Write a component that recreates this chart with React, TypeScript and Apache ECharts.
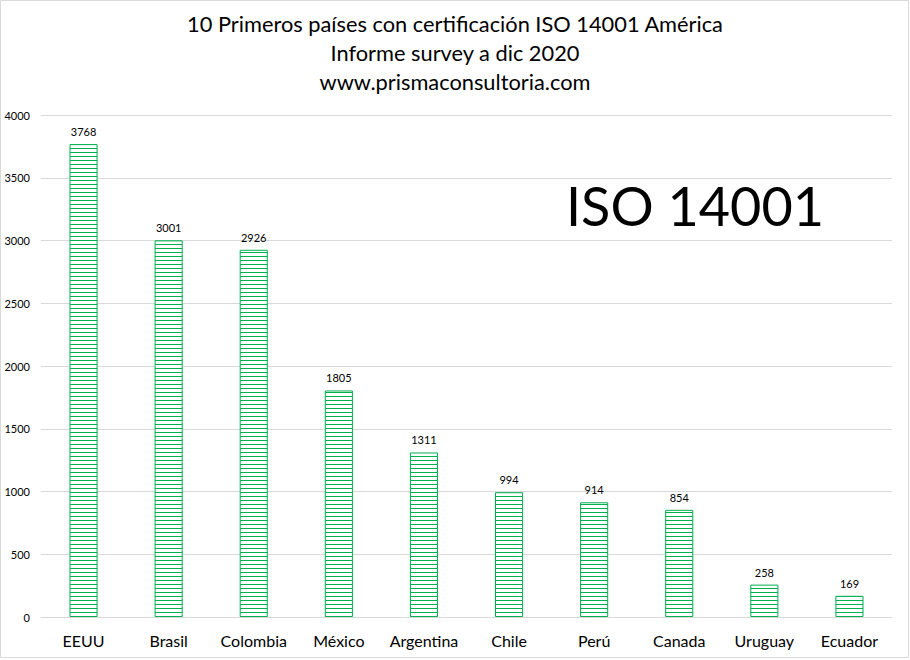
import React, { useEffect, useRef } from "react";
import * as echarts from "echarts";

const categories = ["EEUU", "Brasil", "Colombia", "México", "Argentina", "Chile", "Perú", "Canada", "Uruguay", "Ecuador"];
const values = [3768, 3001, 2926, 1805, 1311, 994, 914, 854, 258, 169];
const titleLines = [
  "10 Primeros países con certificación ISO 14001 América",
  "Informe survey a dic 2020",
  "www.prismaconsultoria.com",
];
const watermark = "ISO 14001";

const FONT = "Lato, 'Noto Sans', sans-serif";
const GREEN = "#00B050";

function makePattern(): string {
  const c = document.createElement("canvas");
  c.width = 4;
  c.height = 4;
  const ctx = c.getContext("2d")!;
  ctx.fillStyle = "#ffffff";
  ctx.fillRect(0, 0, 4, 4);
  ctx.fillStyle = GREEN;
  ctx.fillRect(0, 0, 4, 1);
  return c.toDataURL();
}

export default function App() {
  const ref = useRef<HTMLDivElement>(null);
  useEffect(() => {
    document.body.style.margin = "0";
    const chart = echarts.init(ref.current!, undefined, { renderer: "svg" });
    const img = makePattern();
    chart.setOption({
      animation: false,
      backgroundColor: "#ffffff",
      textStyle: { fontFamily: FONT },
      title: {
        text: titleLines.join("\n"),
        left: "center",
        top: 4,
        textStyle: { fontFamily: FONT, fontSize: 21.8, fontWeight: "normal", color: "#000000", lineHeight: 29 },
      },
      graphic: [
        {
          type: "rect",
          shape: { x: 0.5, y: 0.5, width: 908, height: 657 },
          style: { fill: "none", stroke: "#d9d9d9", lineWidth: 1 },
          silent: true,
        },
        {
          type: "text",
          left: 566,
          top: 178,
          style: { text: watermark, font: `54px ${FONT}`, fill: "#000000" },
          silent: true,
        },
      ],
      grid: { left: 41, right: 18, top: 115, bottom: 43, containLabel: false },
      xAxis: {
        type: "category",
        data: categories,
        axisLine: { show: true, lineStyle: { color: "#d9d9d9" } },
        axisTick: { show: false },
        axisLabel: { fontFamily: FONT, fontSize: 16, color: "#000000", margin: 15, interval: 0 },
      },
      yAxis: {
        type: "value",
        min: 0,
        max: 4000,
        interval: 500,
        axisLine: { show: false },
        axisTick: { show: false },
        splitLine: { lineStyle: { color: "#d9d9d9" } },
        axisLabel: {
          fontFamily: FONT,
          fontSize: 11,
          color: "#000000",
          margin: 11,
          formatter: (v: number) => String(v),
        },
      },
      series: [
        {
          type: "bar",
          data: values,
          barWidth: "33%",
          itemStyle: {
            color: { image: img, repeat: "repeat" },
            borderColor: GREEN,
            borderWidth: 1,
          },
          label: {
            show: true,
            position: "top",
            distance: 7,
            fontFamily: FONT,
            fontSize: 11,
            color: "#000000",
          },
        },
      ],
    });
    return () => chart.dispose();
  }, []);
  return <div ref={ref} style={{ width: 910, height: 660 }} />;
}
